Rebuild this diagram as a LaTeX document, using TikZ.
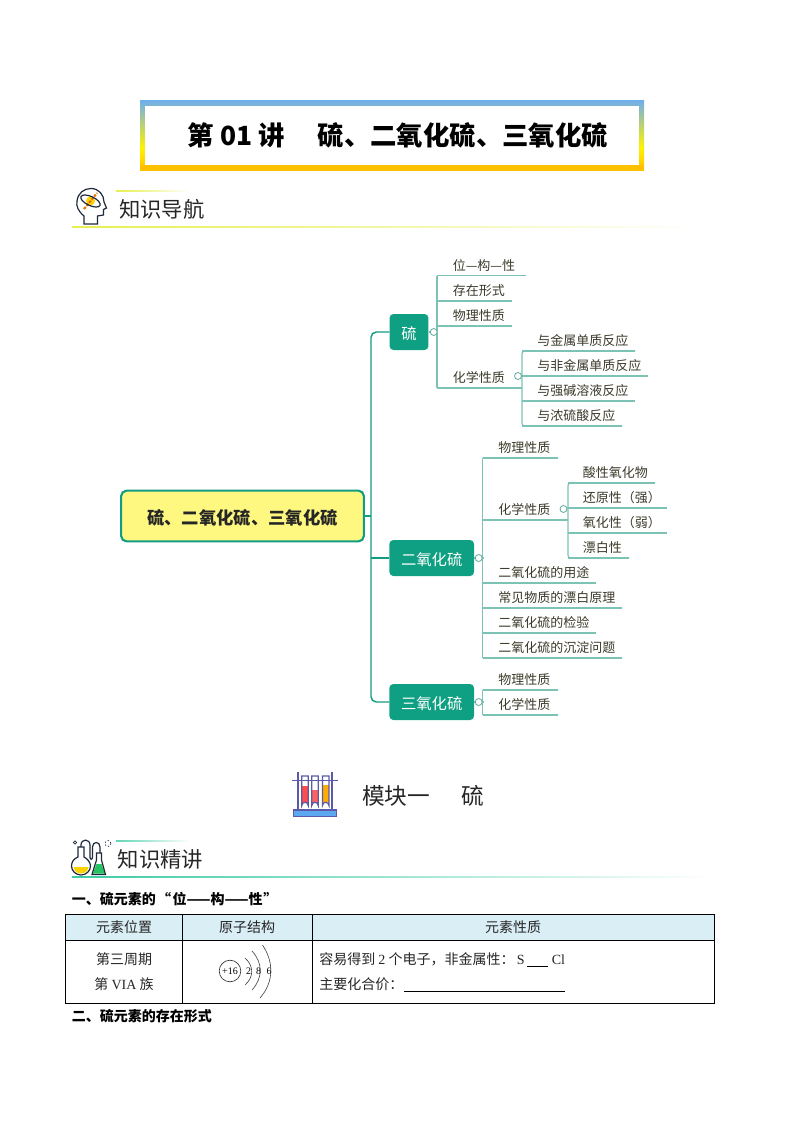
\documentclass[tikz,border=0pt]{standalone}
\usepackage{fontspec}
\setmainfont{Noto Sans CJK SC}
\newfontfamily\latinserif{Liberation Serif}
\usetikzlibrary{calc}
\definecolor{boxteal}{HTML}{0F9F82}
\definecolor{linteal}{HTML}{7CC3B6}
\definecolor{dotteal}{HTML}{62A99B}
\definecolor{rootline}{HTML}{129C80}
\definecolor{inktext}{HTML}{3C3A2A}
\definecolor{headfill}{HTML}{DAEEF6}
\definecolor{darkline}{HTML}{1E2A3A}
\definecolor{rackline}{HTML}{5A5AA8}
\definecolor{rackbase}{HTML}{5CA8F0}
\definecolor{titleblue}{HTML}{6FAEEE}
\definecolor{titleyellow}{HTML}{FFF200}
\definecolor{titleorange}{HTML}{FFC000}
\definecolor{greenrule}{HTML}{3CCBA4}
\definecolor{yellowrule}{HTML}{E6F04E}
\tikzset{
  leaftext/.style={anchor=west,inner sep=0pt,font=\fontsize{9.75pt}{11pt}\selectfont,text=inktext},
  branch/.style={draw=linteal,line width=0.9pt},
  mainline/.style={draw=rootline,line width=1.1pt},
  topicbox/.style={fill=boxteal,rounded corners=3pt,text=white,inner sep=0pt,text height=10.5pt,text depth=0pt,font=\fontsize{11.5pt}{13pt}\selectfont},
  rootbox/.style={draw=rootline,line width=1.6pt,fill=yellow!50!white,rounded corners=4pt,inner sep=0pt,text height=12.9pt,text depth=0pt,font=\bfseries\fontsize{13pt}{15pt}\selectfont,text=black!85},
  dotnode/.style={circle,draw=dotteal,fill=white,line width=0.6pt,minimum size=5.2pt,inner sep=0pt},
  cell/.style={inner sep=0pt,font=\fontsize{10.5pt}{12pt}\selectfont,text=black!85},
  celltext/.style={cell,anchor=west},
  boldhead/.style={anchor=west,inner sep=0pt,font=\bfseries\fontsize{10.5pt}{12pt}\selectfont},
  sechead/.style={anchor=west,inner sep=0pt,font=\fontsize{16pt}{18pt}\selectfont,text=black!85},
  tabline/.style={draw=black,line width=0.7pt},
  icon/.style={draw=darkline,line width=0.9pt},
  rackstroke/.style={draw=rackline,line width=0.9pt}
}
% name, text x, text y, trunk x, line y, line end x, text
\newcommand{\leafitem}[7]{%
  \node[leaftext] (#1) at (#2,#3+0.8) {#7};
  \coordinate (#1-a) at (#4,#5);
  \coordinate (#1-b) at (#6,#5);
  \draw[branch] (#1-a) -- (#1-b);
}
\begin{document}
\begin{tikzpicture}[x=0.75pt,y=-0.75pt]
\useasboundingbox (0,0) rectangle (793,1122);
% title
\shade[top color=titleblue,bottom color=titleyellow] (140,100) rectangle (644,148);
\shade[top color=titleyellow,bottom color=titleorange] (140,148) rectangle (644,170);
\fill[titleorange] (140,165) rectangle (644,170);
\fill[white] (145,105.5) rectangle (639,165);
\node[inner sep=0pt,font=\bfseries\fontsize{19.8pt}{22pt}\selectfont] (title) at (398,135) {第 01 讲\hspace{1.24em}硫、二氧化硫、三氧化硫};
% section 1 header
\shade[left color=yellowrule,right color=white] (72,226) rectangle (700,227.5);
\shade[left color=yellowrule,right color=white] (116,190.5) rectangle (190,191.5);
\node[sechead] (sec1) at (119,209) {知识导航};
\fill[yellow!70!orange] (90.5,201) circle (4.5);
\draw[orange!90!black,line width=1.6pt,dash pattern=on 2pt off 1pt] (84,209) -- (97,193);
\draw[icon] (84,224) -- (84,216) .. controls (78,211) and (76,206) .. (77,201)
  .. controls (78,193) and (84,188.5) .. (91,188.5) .. controls (99,188.5) and (104,195) .. (104,202)
  -- (106.5,208) -- (103.5,209.5) -- (103.5,215) -- (97.5,216) -- (97.5,224) -- cycle;
\draw[darkline,line width=0.9pt,rotate around={-25:(90.5,201)}] (90.5,201) ellipse (10.5 and 4.5);
% mind map
\node[rootbox,minimum width=182pt,minimum height=38pt] (root) at (242.5,516) {硫、二氧化硫、三氧化硫};
\node[topicbox,minimum width=29.2pt,minimum height=27pt] (s) at (409,332) {硫};
\node[topicbox,minimum width=63.5pt,minimum height=27pt] (so2) at (431.7,558) {二氧化硫};
\node[topicbox,minimum width=63.5pt,minimum height=27pt] (so3) at (431.7,702) {三氧化硫};
\coordinate (junction) at (371,516);
\draw[mainline] (root.east) -- (junction);
\draw[mainline,rounded corners=4pt] (s.west) -| (junction) |- (so3.west);
\draw[mainline] (junction |- so2.west) -- (so2.west);
% sulfur
\leafitem{a1}{452.5}{265}{437}{275.5}{526}{位—构—性}
\leafitem{a2}{452.5}{290}{437}{301}{512}{存在形式}
\leafitem{a3}{452.5}{315}{437}{326}{512}{物理性质}
\leafitem{a4}{452.5}{377}{437}{388}{522}{化学性质}
\draw[branch] (a1-a) -- (a4-a);
\node[dotnode] (sdot) at (433.7,332) {};
\draw[branch] (s.east) -- (sdot);
\draw[branch] (sdot) -- (sdot -| a1-a);
\leafitem{b1}{537}{340}{522}{351}{635}{与金属单质反应}
\leafitem{b2}{537}{365}{522}{376}{648}{与非金属单质反应}
\leafitem{b3}{537}{390}{522}{401}{635}{与强碱溶液反应}
\leafitem{b4}{537}{415}{522}{426}{622}{与浓硫酸反应}
\draw[branch,rounded corners=2pt] (b1-b) -- (b1-a) -- (b4-a) -- (b4-b);
\node[dotnode] (a4dot) at (518,376) {};
\draw[branch] (a4dot) -- (b2-a);
% so2
\leafitem{c1}{498}{447}{482.7}{458}{558}{物理性质}
\leafitem{c2}{498}{509}{482.7}{520}{568}{化学性质}
\leafitem{c3}{498}{572}{482.7}{583}{596}{二氧化硫的用途}
\leafitem{c4}{498}{597}{482.7}{608}{622}{常见物质的漂白原理}
\leafitem{c5}{498}{622}{482.7}{633}{596}{二氧化硫的检验}
\leafitem{c6}{498}{647}{482.7}{658}{622}{二氧化硫的沉淀问题}
\draw[branch] (c1-a) -- (c6-a);
\node[dotnode] (so2dot) at (478.7,558) {};
\draw[branch] (so2.east) -- (so2dot);
\draw[branch] (so2dot) -- (so2dot -| c1-a);
\leafitem{d1}{582.5}{472}{568}{483}{655}{酸性氧化物}
\leafitem{d2}{582.5}{497}{568}{508}{667}{还原性（强）}
\leafitem{d3}{582.5}{522}{568}{533}{667}{氧化性（弱）}
\leafitem{d4}{582.5}{547}{568}{558}{629}{漂白性}
\draw[branch,rounded corners=2pt] (d1-b) -- (d1-a) -- (d4-a) -- (d4-b);
\node[dotnode] (c2dot) at (563.5,509) {};
\draw[branch] (c2dot) -- (d2-a);
% so3
\leafitem{e1}{498}{679}{482.7}{690}{558}{物理性质}
\leafitem{e2}{498}{704}{482.7}{715}{558}{化学性质}
\draw[branch] (e1-a) -- (e2-a);
\node[dotnode] (so3dot) at (478.7,702) {};
\draw[branch] (so3.east) -- (so3dot);
\draw[branch] (so3dot) -- (so3dot -| e1-a);
% module heading
\node[anchor=west,inner sep=0pt,font=\fontsize{17pt}{19pt}\selectfont,text=black!85] (module) at (362,796) {模块一\hspace{1.38em}硫};
% test tubes icon
\foreach \tx/\ty/\tc in {305/786/red!70!white,315/790/red!62!white,325.7/785/orange!65!yellow}{
  \fill[\tc] (\tx-3.2,\ty) -- (\tx+3.2,\ty) -- (\tx+3.2,805.5) arc[start angle=0,end angle=-180,radius=3.2] -- cycle;
  \draw[rackstroke] (\tx-3.2,776) -- (\tx+3.2,776) -- (\tx+3.2,805.5) arc[start angle=0,end angle=-180,radius=3.2] -- cycle;
}
\draw[draw=rackline,line width=1.4pt] (298,772) -- (298,809.5) (331.7,772) -- (331.7,809.5) (292,780.5) -- (338,780.5);
\draw[rackstroke,fill=rackbase] (293.3,810) rectangle (336.7,816.3);
% section 2 header
\shade[left color=greenrule,right color=white] (72,876.3) rectangle (712,877.8);
\shade[left color=greenrule!80!white,right color=white] (116,840) rectangle (190,841);
\node[sechead] (sec2) at (117.5,859) {知识精讲};
% flask icon
\fill[yellow!70!orange] (73.5,867) -- (88.5,867) .. controls (88,871) and (85,873.5) .. (81,873.5) .. controls (77,873.5) and (74,871) .. (73.5,867) -- cycle;
\draw[icon] (78,847) -- (78,857) .. controls (74,858.5) and (71.5,862) .. (71.5,866) .. controls (71.5,871) and (76,875) .. (81,875) .. controls (86,875) and (90.5,871) .. (90.5,866) .. controls (90.5,862) and (87,858.5) .. (84,857) -- (84,847) -- cycle;
\draw[icon] (81,847) -- (81,845) .. controls (81,838.5) and (90,838.5) .. (90,845) -- (90,857) (90,857) .. controls (90,860) and (92.5,860) .. (92.5,857) -- (92.5,847) .. controls (92.5,841) and (100,841) .. (100,847) -- (100,853);
\fill[teal!55!green!85!white] (96.5,864) -- (101.5,864) -- (105,873.5) -- (93,873.5) -- cycle;
\draw[icon] (96.5,853) -- (96.5,860) -- (92,874.5) -- (105.5,874.5) -- (101.5,860) -- (101.5,853) -- cycle;
\draw[darkline,line width=0.6pt] (75,842.5) circle (1.6);
\draw[darkline,line width=0.5pt,dash pattern=on 1pt off 1.5pt] (108,843.5) circle (3);
% heading 1
\node[boldhead] (h1) at (71.5,899.5) {一、硫元素的\hspace{0.1em}“\hspace{0.1em}位——构——性\hspace{0.05em}”};
% table
\fill[headfill] (65,914) rectangle (714,940);
\draw[tabline] (65,914) rectangle (714,1003);
\draw[tabline] (65,940) -- (714,940);
\draw[tabline] (182.7,914) -- (182.7,1003) (312.3,914) -- (312.3,1003);
\node[cell] (t1) at (124,927.5) {元素位置};
\node[cell] (t2) at (247,927.5) {原子结构};
\node[cell] (t3) at (513,927.5) {元素性质};
\node[cell] (t4) at (124,959.5) {第三周期};
\node[cell] (t5) at (124,984.5) {第 {\latinserif VIA} 族};
\node[celltext] (t6) at (319,959.5) {容易得到 {\latinserif 2} 个电子，非金属性：};
\node[celltext] (t6s) at (516.5,959.5) {\latinserif S};
\node[celltext] (t7) at (551.5,959.5) {\latinserif Cl};
\node[celltext] (t8) at (319,984.5) {主要化合价：};
\coordinate (u1a) at (527,966.8); \coordinate (u1b) at (548,966.8);
\coordinate (u2a) at (404,991); \coordinate (u2b) at (565,991);
\draw[black,line width=0.6pt] (u1a) -- (u1b) (u2a) -- (u2b);
% atom
\node[circle,draw=black!80,line width=0.5pt,minimum size=16.2pt,inner sep=0pt,font=\latinserif\fontsize{7.5pt}{8pt}\selectfont] (nucleus) at (230,971) {+16};
\foreach \lx/\lt in {248.5/2,258.5/8,269/6}{
  \node[inner sep=0pt,font=\latinserif\fontsize{7.5pt}{8pt}\selectfont] at (\lx,971.5) {\lt};
}
\draw[black!75,line width=0.45pt] (245,958) .. controls (254,966) and (254,977) .. (245,985);
\draw[black!75,line width=0.45pt] (252,951) .. controls (263,963) and (263,978) .. (252,990);
\draw[black!75,line width=0.45pt] (262.5,945) .. controls (274,962) and (274,982) .. (260,998);
% heading 2
\node[boldhead] (h2) at (71.5,1016.5) {二、硫元素的存在形式};
\end{tikzpicture}
\end{document}
